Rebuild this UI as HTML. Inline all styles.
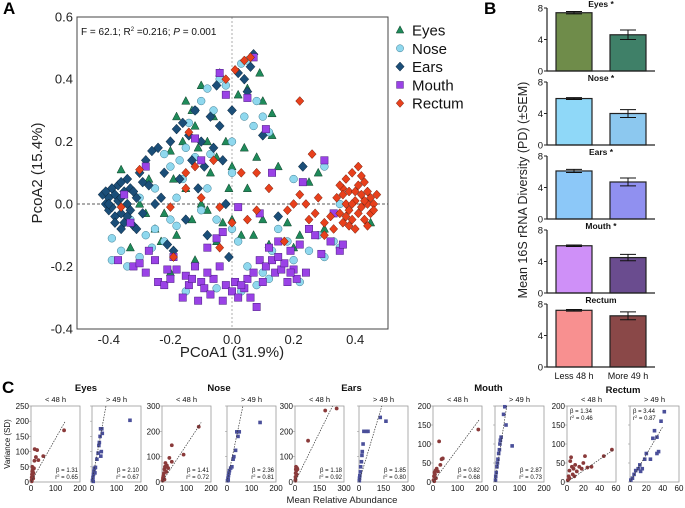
<!DOCTYPE html>
<html><head><meta charset="utf-8">
<style>
html,body{margin:0;padding:0;background:#fff;}
svg{display:block;font-family:"Liberation Sans",Arial,sans-serif;}
</style></head>
<body>
<svg id="fig" width="685" height="508" viewBox="0 0 685 508" xmlns="http://www.w3.org/2000/svg">
<text x="3" y="14" font-size="17" font-weight="bold">A</text>
<text x="484" y="14" font-size="17" font-weight="bold">B</text>
<text x="2" y="393" font-size="17" font-weight="bold">C</text>
</svg>
<script>
// ---------- Panel A data ----------
const eyesPts=[[-0.36,0.11],[-0.33,-0.14],[-0.3,0.0],[-0.28,-0.03],[-0.25,-0.08],[-0.23,-0.12],[-0.2,0.17],[-0.18,0.28],[-0.16,0.2],[-0.15,0.33],[-0.13,0.3],[-0.12,0.25],[-0.1,0.38],[-0.08,0.2],[-0.06,0.28],[-0.05,0.15],[-0.04,0.42],[-0.02,0.2],[0.0,0.12],[0.02,0.35],[0.05,0.37],[0.09,0.42],[0.1,0.33],[0.13,0.29],[0.13,0.22],[0.08,0.15],[0.05,0.05],[0.0,-0.05],[-0.03,-0.06],[-0.05,-0.12],[-0.08,-0.02],[-0.1,0.0],[-0.13,-0.05],[-0.15,0.05],[-0.18,-0.1],[-0.2,-0.22],[-0.22,-0.03],[0.03,-0.1],[0.07,-0.1],[0.12,-0.13],[0.18,-0.06],[0.2,-0.14],[0.22,-0.1],[0.25,0.07],[0.28,0.1],[0.3,-0.08],[0.15,0.12],[-0.07,0.1],[-0.27,0.08],[-0.12,-0.18],[0.45,-0.06],[-0.11,0.18],[-0.01,0.05],[0.04,0.18],[-0.19,0.08],[0.1,-0.05]];
const nosePts=[[-0.39,-0.11],[-0.39,-0.18],[-0.36,-0.15],[-0.34,-0.2],[-0.3,-0.17],[-0.28,-0.1],[-0.25,-0.08],[-0.22,-0.12],[-0.2,-0.05],[-0.18,0.02],[-0.16,0.08],[-0.15,0.18],[-0.14,0.26],[-0.12,0.3],[-0.1,0.33],[-0.08,0.37],[-0.06,0.3],[-0.04,0.4],[-0.02,0.38],[0.0,0.2],[0.03,0.45],[0.05,0.46],[0.08,0.33],[0.1,0.28],[0.12,0.23],[0.07,0.25],[-0.12,0.15],[-0.08,0.05],[-0.05,-0.05],[0.0,-0.08],[0.02,-0.12],[0.05,-0.2],[0.08,-0.26],[0.1,-0.22],[0.13,-0.15],[0.15,-0.08],[0.18,-0.12],[0.2,-0.18],[0.22,-0.25],[0.25,-0.15],[0.28,-0.1],[0.3,-0.17],[0.33,-0.12],[0.35,-0.14],[0.3,0.12],[0.2,0.08],[0.35,0.0],[-0.25,0.05],[-0.3,0.02],[-0.22,0.16],[-0.1,-0.02],[-0.15,-0.28],[-0.05,-0.27],[0.03,-0.28],[-0.33,-0.05],[-0.2,0.12],[0.0,0.1],[0.04,0.28],[-0.17,0.14],[-0.07,0.16],[-0.18,-0.07],[-0.26,-0.14],[0.12,-0.24]];
const earsPts=[[-0.42,0.03],[-0.41,0.0],[-0.40,0.02],[-0.40,-0.02],[-0.39,0.05],[-0.39,-0.01],[-0.38,0.03],[-0.38,-0.04],[-0.37,0.01],[-0.37,0.06],[-0.36,-0.03],[-0.36,0.02],[-0.35,0.04],[-0.35,-0.06],[-0.34,0.0],[-0.34,0.08],[-0.33,-0.02],[-0.33,0.05],[-0.32,-0.07],[-0.31,0.02],[-0.30,0.1],[-0.29,-0.03],[-0.28,0.14],[-0.27,0.06],[-0.26,0.17],[-0.25,0.0],[-0.24,0.18],[-0.22,0.1],[-0.21,-0.13],[-0.2,0.2],[-0.19,-0.15],[-0.18,0.24],[-0.17,0.08],[-0.16,0.26],[-0.15,-0.05],[-0.14,0.22],[-0.13,0.14],[-0.12,0.3],[-0.11,0.05],[-0.1,0.2],[-0.09,0.12],[-0.08,-0.1],[-0.07,0.28],[-0.06,0.18],[-0.05,0.38],[-0.04,0.25],[-0.03,0.14],[-0.02,0.0],[-0.01,-0.17],[0.0,0.3],[0.02,0.42],[0.04,0.4],[0.06,0.44],[0.07,0.48],[0.05,0.36],[0.1,0.22],[0.15,-0.04],[0.23,0.12],[-0.29,0.07],[-0.31,-0.08],[-0.36,0.07],[-0.23,0.02],[-0.41,0.04],[-0.38,-0.06],[-0.34,-0.04],[-0.32,0.04],[-0.4,0.0],[-0.36,-0.08]];
const mouthPts=[[-0.37,-0.18],[-0.35,0.03],[-0.33,-0.06],[-0.32,-0.2],[-0.3,-0.19],[-0.28,-0.22],[-0.27,-0.15],[-0.25,-0.18],[-0.24,-0.25],[-0.22,-0.26],[-0.2,-0.24],[-0.18,-0.21],[-0.16,-0.3],[-0.15,-0.23],[-0.14,-0.26],[-0.12,-0.2],[-0.11,-0.31],[-0.1,-0.25],[-0.09,-0.27],[-0.08,-0.14],[-0.07,-0.29],[-0.06,-0.24],[-0.05,-0.11],[-0.04,-0.2],[-0.03,-0.31],[-0.02,-0.26],[0.0,-0.28],[0.01,-0.25],[0.02,-0.3],[0.04,-0.27],[0.05,-0.24],[0.06,-0.3],[0.07,-0.22],[0.09,-0.18],[0.1,-0.25],[0.11,-0.2],[0.12,-0.14],[0.13,-0.18],[0.14,-0.22],[0.15,-0.12],[0.16,-0.21],[0.17,-0.19],[0.18,-0.25],[0.19,-0.15],[0.2,-0.21],[0.21,-0.24],[0.22,-0.13],[0.24,-0.22],[0.25,-0.08],[0.27,-0.1],[0.29,-0.16],[0.32,-0.12],[0.33,-0.03],[0.35,-0.15],[0.36,-0.13],[0.3,0.14],[0.23,0.07],[0.13,0.1],[0.05,0.34],[0.07,0.47],[-0.04,0.42],[-0.02,0.35],[0.11,0.24],[-0.12,0.21],[-0.1,0.14],[0.02,-0.01],[0.09,-0.03],[-0.03,-0.09],[0.08,-0.33],[-0.28,0.12],[-0.19,-0.17],[-0.13,-0.24],[-0.08,-0.22],[0.03,-0.26],[0.15,-0.17],[0.19,-0.22],[-0.21,-0.21]];
const rectumPts=[[0.34,0.02],[0.35,-0.03],[0.36,0.05],[0.36,-0.06],[0.37,0.0],[0.37,0.08],[0.38,-0.02],[0.38,0.04],[0.39,-0.05],[0.39,0.1],[0.4,0.01],[0.4,-0.08],[0.41,0.06],[0.41,-0.03],[0.42,0.03],[0.42,-0.01],[0.43,0.07],[0.43,-0.05],[0.44,0.0],[0.44,0.04],[0.45,-0.03],[0.45,0.02],[0.46,0.0],[0.47,0.03],[0.41,0.12],[0.38,-0.07],[0.36,0.03],[0.4,0.04],[0.42,0.09],[0.44,-0.07],[0.39,0.0],[0.43,0.01],[0.37,-0.04],[0.46,-0.02],[0.35,0.06],[0.22,0.33],[0.26,0.16],[0.3,-0.1],[0.28,0.02],[0.27,-0.03],[0.25,-0.05],[0.22,0.03],[0.2,0.0],[0.18,-0.02],[0.3,-0.06],[0.32,-0.04],[0.33,-0.08],[0.24,0.0],[0.12,0.05],[0.08,0.1],[0.03,0.1],[0.05,-0.05],[0.08,-0.02],[0.0,-0.06],[-0.04,-0.01],[-0.02,0.4],[0.04,0.46],[0.06,0.47],[0.01,0.43],[-0.14,0.23],[-0.15,0.1],[-0.15,0.05],[-0.12,0.12],[-0.06,0.14],[-0.3,0.11],[-0.36,-0.01],[-0.2,-0.01],[-0.1,0.02],[-0.19,-0.17],[-0.04,-0.14],[0.17,-0.12]];
const aXTicks=[-0.4,-0.2,0.0,0.2,0.4];
const aYTicks=[-0.4,-0.2,0.0,0.2,0.4,0.6];
const aLegend=["Eyes","Nose","Ears","Mouth","Rectum"];

// ---------- Panel B data ----------
const bGroups=["Eyes","Nose","Ears","Mouth","Rectum"];
const bLess=[7.4,5.9,6.1,6.0,7.2];
const bLessErr=[0.15,0.12,0.2,0.1,0.1];
const bMore=[4.6,4.0,4.7,4.5,6.5];
const bMoreErr=[0.6,0.5,0.5,0.4,0.5];
const bTicks=[0,4,8];

// ---------- Panel C data ----------
const cGroups=["Eyes","Nose","Ears","Mouth","Rectum"];
const cXMax=[200,200,300,200,60];
const cYMax=[250,300,300,200,200];
const cXTicks=[[0,100,200],[0,100,200],[0,150,300],[0,100,200],[0,20,40,60]];
const cYTicks=[[0,50,100,150,200,250],[0,100,200,300],[0,100,200,300],[0,50,100,150,200],[0,50,100,150,200]];
const cBeta=[["1.31","2.10"],["1.41","2.36"],["1.18","1.85"],["0.82","2.87"],["1.34","3.44"]];
const cR2=[["0.65","0.67"],["0.72","0.81"],["0.92","0.80"],["0.68","0.73"],["0.46","0.87"]];
const cLineEnd=[[[140,200],[57,250]],[[160,235],[65,300]],[[230,300],[140,300]],[[190,165],[48,200]],[[57,85],[40,145]]];
const cPts=[
 [[[2,5],[3,15],[4,25],[5,35],[6,10],[7,40],[8,20],[5,50],[10,30],[12,45],[14,70],[15,108],[20,82],[25,105],[30,72],[50,85],[135,170],[3,2],[6,28],[9,12]],
  [[2,5],[4,15],[6,25],[8,35],[10,45],[14,48],[20,75],[25,95],[28,120],[30,130],[33,150],[35,175],[40,175],[42,160],[38,100],[36,85],[155,203],[5,2],[12,30]]],
 [[[2,5],[4,15],[6,25],[8,35],[10,50],[12,60],[14,75],[18,40],[20,65],[25,55],[30,95],[40,145],[40,80],[88,108],[150,218],[5,20],[10,10]],
  [[2,5],[4,15],[6,25],[8,35],[10,45],[15,55],[20,60],[25,90],[28,100],[35,125],[40,198],[45,180],[50,198],[135,235],[5,8]]],
 [[[2,5],[3,20],[4,35],[5,50],[6,60],[8,45],[10,30],[12,55],[15,50],[80,163],[185,282],[255,290],[3,10]],
  [[2,5],[3,15],[5,25],[8,40],[10,60],[15,80],[18,105],[20,120],[25,150],[30,200],[45,200],[55,200],[130,255],[165,240]]],
 [[[2,5],[4,15],[6,25],[8,20],[10,30],[12,10],[15,35],[20,28],[25,107],[30,45],[35,60],[40,62],[185,138],[5,2]],
  [[2,5],[3,15],[5,25],[8,40],[10,50],[12,60],[15,75],[20,100],[22,110],[25,118],[35,178],[40,198],[45,150],[70,95],[18,85]]],
 [[[1,5],[2,15],[3,30],[4,55],[5,65],[6,40],[7,20],[8,35],[10,45],[12,28],[15,40],[18,35],[20,50],[22,68],[25,38],[30,40],[45,68],[55,85],[3,10],[9,15]],
  [[1,5],[3,10],[5,20],[7,30],[10,35],[12,45],[15,35],[18,60],[20,75],[25,60],[30,135],[33,118],[35,80],[33,75],[38,160],[42,185],[28,115],[13,28]]]
];

const NS="http://www.w3.org/2000/svg";
const svg=document.getElementById('fig');
function mk(tag,attrs,parent){const e=document.createElementNS(NS,tag);for(const k in attrs)e.setAttribute(k,attrs[k]);(parent||svg).appendChild(e);return e;}

// ===== Panel A =====
const AL=77,AR=388,AT=17,AB=329;
const ax=v=>232+v*308;
const ay=v=>204-v*312;
const gA=mk('g',{});


let e;
e=mk('line',{x1:ax(0),y1:AT,x2:ax(0),y2:AB,stroke:'#999','stroke-width':0.8,'stroke-dasharray':'2,2'},gA);


e=mk('line',{x1:AL,y1:ay(0),x2:AR,y2:ay(0),stroke:'#222','stroke-width':0.8,'stroke-dasharray':'3,2'},gA);


const colors={Eyes:'#1f8a5a',Nose:'#8fd8ee',Ears:'#1b4e78',Mouth:'#9a42e6',Rectum:'#e8401c'};
function marker(kind,x,y,parent,s){
  s=s||4.1;let m;
  if(kind==='Eyes')m=mk('polygon',{points:`${x},${y-s*1.1} ${x-s},${y+s*0.8} ${x+s},${y+s*0.8}`,fill:colors.Eyes,stroke:'#0d3d27','stroke-width':0.5},parent);
  else if(kind==='Nose')m=mk('circle',{cx:x,cy:y,r:s*0.95,fill:colors.Nose,stroke:'#3a7a90','stroke-width':0.5},parent);
  else if(kind==='Ears')m=mk('polygon',{points:`${x},${y-s*1.2} ${x+s*1.1},${y} ${x},${y+s*1.2} ${x-s*1.1},${y}`,fill:colors.Ears,stroke:'#0a2236','stroke-width':0.5},parent);
  else if(kind==='Mouth')m=mk('rect',{x:x-s*0.9,y:y-s*0.9,width:s*1.8,height:s*1.8,fill:colors.Mouth,stroke:'#4a1a80','stroke-width':0.5},parent);
  else m=mk('polygon',{points:`${x},${y-s*1.1} ${x+s},${y} ${x},${y+s*1.1} ${x-s},${y}`,fill:colors.Rectum,stroke:'#6a1a08','stroke-width':0.5},parent);
  return m;
}
const seriesA=[['Eyes',eyesPts],['Nose',nosePts],['Ears',earsPts],['Mouth',mouthPts],['Rectum',rectumPts]];
seriesA.forEach(([k,pts])=>{
  const g=mk('g',{},gA);
  
  
  pts.forEach(p=>{
    const m=marker(k,ax(p[0]),ay(p[1]),g);
    
    
  });
});
e=mk('rect',{x:AL,y:AT,width:AR-AL,height:AB-AT,fill:'none',stroke:'#444','stroke-width':1},gA);


aXTicks.forEach(t=>{
  const l=mk('text',{x:ax(t),y:AB+15,'font-size':13,'text-anchor':'middle',fill:'#222'},gA);
  l.textContent=t.toFixed(1);
  
  
});
aYTicks.forEach(t=>{
  const l=mk('text',{x:AL-4,y:ay(t)+4.5,'font-size':13,'text-anchor':'end',fill:'#222'},gA);
  l.textContent=t.toFixed(1);
  
  
});
e=mk('text',{x:232,y:357,'font-size':15,'text-anchor':'middle',fill:'#222'},gA);
e.textContent='PCoA1 (31.9%)';


e=mk('text',{x:0,y:0,'font-size':15,'text-anchor':'middle',fill:'#222',transform:'translate(42,173) rotate(-90)'},gA);
e.textContent='PcoA2 (15.4%)';


e=mk('text',{x:81,y:35,'font-size':10,fill:'#111'},gA);
e.innerHTML='F = 62.1; R<tspan font-size="6" dy="-4">2</tspan><tspan dy="4"> =0.216; </tspan><tspan font-style="italic">P</tspan> = 0.001';


aLegend.forEach((k,i)=>{
  const g=mk('g',{},gA);
  
  
  marker(k,400,30+i*18.3,g,3.8);
  const t=mk('text',{x:412,y:35.5+i*18.3,'font-size':15,fill:'#111'},g);
  t.textContent=k;
});

// ===== Panel B =====
const BL=547,BR=655,bTop=[8,82,156,230,304],bH=63;
const bColL=['#6f8c4a','#8fd8f8','#8cc8f8','#cf90f8','#f89090'];
const bColR=['#3f8068','#8cc8ef','#9090f0','#6a4c8f','#8a4848'];
bGroups.forEach((gname,i)=>{
  const g=mk('g',{});
  
  
  const y0=bTop[i]+bH, sc=v=>y0-v/8*bH;
  [[bLess[i],bLessErr[i],556,bColL[i],'less-48h'],[bMore[i],bMoreErr[i],610,bColR[i],'more-49h']].forEach(([v,er,x,c,nm])=>{
    const r=mk('rect',{x:x,y:sc(v),width:36,height:y0-sc(v),fill:c,stroke:'#222','stroke-width':1.2},g);
    
    
    const eb=mk('path',{d:`M${x+18},${sc(v+er)}V${sc(v-er)}M${x+10},${sc(v+er)}H${x+26}M${x+10},${sc(v-er)}H${x+26}`,stroke:'#111','stroke-width':1,fill:'none'},g);
    
    
  });
  mk('path',{d:`M${BL},${bTop[i]}V${y0}H${BR}`,stroke:'#222','stroke-width':1.2,fill:'none'},g);
  bTicks.forEach(t=>{
    mk('line',{x1:BL-3,x2:BL,y1:sc(t),y2:sc(t),stroke:'#222'},g);
    const l=mk('text',{x:BL-4,y:sc(t)+3.5,'font-size':9.5,'text-anchor':'end',fill:'#111'},g);
    l.textContent=t;
  });
  const tt=mk('text',{x:601,y:bTop[i]-1,'font-size':8.5,'font-weight':'bold','text-anchor':'middle',fill:'#111'},g);
  tt.textContent=gname+(i<4?' *':'');
  
  
});
e=mk('text',{x:574,y:379,'font-size':9,'text-anchor':'middle',fill:'#111'});
e.textContent='Less 48 h';


e=mk('text',{x:628,y:379,'font-size':9,'text-anchor':'middle',fill:'#111'});
e.textContent='More 49 h';


e=mk('text',{x:0,y:0,'font-size':12.5,'text-anchor':'middle',fill:'#222',transform:'translate(527,190) rotate(-90)'});
e.textContent='Mean 16S rRNA Diversity (PD) (±SEM)';



// ===== Panel C =====
const cLeft=[[31,92],[162,227],[295,359],[433,495],[567,630]];
const cW=49,CT=406,CB=482;
cGroups.forEach((gname,gi)=>{
  const titleY=gi===4?393:391;
  const tx=(cLeft[gi][0]+cLeft[gi][1]+cW)/2;
  e=mk('text',{x:tx,y:titleY,'font-size':9.5,'font-weight':'bold','text-anchor':'middle',fill:'#111'});
  e.textContent=gname;
  
  
  [0,1].forEach(h=>{
    const L=cLeft[gi][h];
    const g=mk('g',{});
    
    
    const sx=v=>L+v/cXMax[gi]*cW, sy=v=>CB-v/cYMax[gi]*(CB-CT);
    const st=mk('text',{x:L+cW/2,y:402,'font-size':7.5,'text-anchor':'middle',fill:'#111'},g);
    st.textContent=h?'> 49 h':'< 48 h';
    mk('rect',{x:L,y:CT,width:cW,height:CB-CT,fill:'#fff',stroke:'#999','stroke-width':0.8},g);
    const col=h?'#4a4f9a':'#8a3a3a';
    cPts[gi][h].forEach(p=>{
      let m;
      if(h)m=mk('rect',{x:sx(p[0])-1.8,y:sy(p[1])-1.8,width:3.6,height:3.6,fill:col},g);
      else m=mk('circle',{cx:sx(p[0]),cy:sy(p[1]),r:1.9,fill:col},g);
      
      
    });
    const le=cLineEnd[gi][h];
    const rl=mk('line',{x1:sx(0),y1:sy(0),x2:sx(le[0]),y2:sy(le[1]),stroke:'#333','stroke-width':0.7,'stroke-dasharray':'1.5,1.2'},g);
    
    
    const top=gi===4;
    const bx=top?L+3:L+cW-2, anc=top?'start':'end';
    const b1=mk('text',{x:bx,y:top?CT+7:CB-10,'font-size':6,'text-anchor':anc,fill:'#111'},g);
    b1.textContent='β = '+cBeta[gi][h];
    
    
    const b2=mk('text',{x:bx,y:top?CT+14:CB-3,'font-size':6,'text-anchor':anc,fill:'#111'},g);
    b2.innerHTML='r<tspan font-size="4" dy="-2">2</tspan><tspan dy="2"> = '+cR2[gi][h]+'</tspan>';
    
    
    cXTicks[gi].forEach(t=>{
      const l=mk('text',{x:sx(t),y:CB+9,'font-size':8,'text-anchor':'middle',fill:'#111'},g);
      l.textContent=t;
    });
    cYTicks[gi].forEach(t=>{
      mk('line',{x1:L-2,x2:L,y1:sy(t),y2:sy(t),stroke:'#999','stroke-width':0.6},g);
      if(!h){
        const l=mk('text',{x:L-2,y:sy(t)+3,'font-size':8,'text-anchor':'end',fill:'#111'},g);
        l.textContent=t;
      }
    });
  });
});
e=mk('text',{x:0,y:0,'font-size':8,'text-anchor':'middle',fill:'#111',transform:'translate(10,444) rotate(-90)'});
e.textContent='Variance (SD)';


e=mk('text',{x:342,y:503,'font-size':9.5,'text-anchor':'middle',fill:'#222'});
e.textContent='Mean Relative Abundance';


</script>
</body></html>
